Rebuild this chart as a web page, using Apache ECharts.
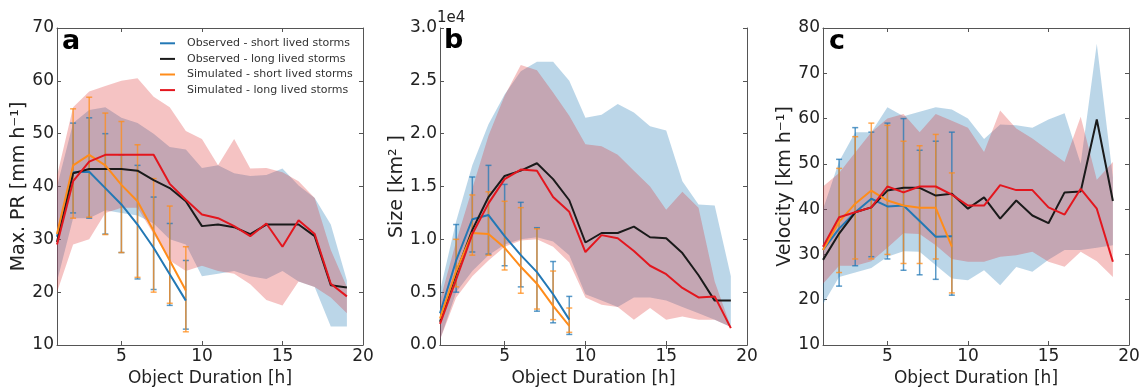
<!DOCTYPE html>
<html>
<head>
<meta charset="utf-8">
<script src="https://cdn.jsdelivr.net/npm/echarts@6/dist/echarts.min.js"></script>
<style>
html,body{margin:0;padding:0;background:#fff}
#chart{width:1145px;height:392px}
</style>
</head>
<body>
<div id="chart"></div>
<script>
// object duration [h]
var hours = [1,2,3,4,5,6,7,8,9,10,11,12,13,14,15,16,17,18,19]
var hoursShort = [1,2,3,4,5,6,7,8,9]
var errHours = [2,3,4,5,6,7,8,9]
var legendNames = ['Observed - short lived storms','Observed - long lived storms','Simulated - short lived storms','Simulated - long lived storms']

// panel a - max. precipitation rate [mm/h]
var prObsShort = [30.5,42.7,42.8,39.7,36.6,32.8,28.4,23.4,18.4]
var prObsLong = [29.5,42.5,43.3,43.3,43.3,43.0,41.2,39.7,37.2,32.5,32.8,32.3,31.0,32.8,32.8,32.8,30.6,21.3,20.9]
var prSimShort = [31,44,46,44,40.3,37.2,31.6,26,20.3]
var prSimLong = [29,41,44.7,46,46,46,46,40.5,37.5,34.7,34,32.5,30.6,33,28.6,33.6,31,21.6,19.2]
var prObsHi = [40,52,54.5,55,53,52,50,47.5,47,43.5,44,42.5,42,42.2,43.4,40.2,37.8,32.8,22.2]
var prObsLo = [22,34,34,35.5,35,34.5,33,30,29,23,23.5,24,23,22.5,24,22,21,13.5,13.5]
var prSimHi = [42,55,58,59,60,60.5,57,55,50.5,49,44,49,43.4,43.5,42.7,41,37.8,28,21]
var prSimLo = [20,29,30,35,36,36,31,26,24,25,24,23.5,21.5,18.5,17.5,22,21,19,16]
var prObsErrLo = [35,34,31,27.5,22.5,20.5,17.5,13]
var prObsErrHi = [52,53,50,46,44,38,33,26]
var prSimErrLo = [34,34.2,30.9,27.5,22.8,20,17.9,12.5]
var prSimErrHi = [54.7,56.9,53.9,52.3,47.9,41.5,36.3,28.6]

// panel b - size [km2]
var sizeObsShort = [3000,8000,11900,12300,10300,8500,6900,4800,2400]
var sizeObsLong = [2200,6800,10900,14000,16000,16500,17200,15700,13700,9700,10600,10600,11200,10200,10100,8700,6600,4200,4200]
var sizeSimShort = [2500,7000,10600,10500,9200,7400,5800,3700,1800]
var sizeSimLong = [2000,6200,10500,13400,15700,16600,16500,14000,12600,8800,10400,10100,8900,7500,6700,5400,4500,4600,1600]
var sizeObsHi = [5100,11700,17000,20900,23700,25900,26800,26800,25000,21500,21800,22800,22000,20700,20300,15500,13300,13200,6500]
var sizeObsLo = [500,5000,7000,8500,9500,10000,10200,9800,8500,4800,4200,3600,4500,4500,4200,3600,3000,2400,1700]
var sizeSimHi = [4200,9800,14800,19800,23600,26500,26000,23900,21700,19000,18800,18000,16500,15000,12800,14500,13000,6000,1700]
var sizeSimLo = [500,4500,6500,8000,9300,9900,10000,9300,7800,4500,3800,3600,2400,3500,2400,2700,2400,2400,1700]
var sizeObsErrLo = [5000,8800,8600,7500,5500,3200,2100,1000]
var sizeObsErrHi = [11400,15900,17000,15200,13500,11100,7900,4600]
var sizeSimErrLo = [5500,8500,8500,7100,4900,3400,2400,1200]
var sizeSimErrHi = [10000,14200,14500,13600,13000,11000,7000,3500]

// panel c - velocity [km/h]
var velObsShort = [31,35.7,39.3,42.3,40.6,40.8,37.4,33.9,34]
var velObsLong = [28.8,34.6,39.3,40.4,44.1,44.7,44.7,43,43.4,40.1,42.6,37.9,41.9,38.6,36.9,43.7,43.9,59.8,41.8]
var velSimShort = [31,37.2,41.2,44.1,41.9,40.8,40.3,40.3,31.7]
var velSimLong = [31.7,38.2,39.3,40.4,45,43.7,45,45,43.2,40.8,40.8,45.3,44.2,44.2,40.4,38.8,44.5,40.1,28.4]
var velObsHi = [40,50.5,57,57,62.5,60.5,61.5,62.5,62,60,55.5,58.7,58.5,58,59.8,61.2,50,76.5,47]
var velObsLo = [19,25,26,27,29.5,30.7,30.6,27.6,24.7,24.3,26.5,23.2,27.2,26.2,28.8,31,31,31.5,32]
var velSimHi = [45,48,52.5,57,60,61,57,61,59.5,58,52.6,61.8,57.8,55.6,53,50.4,60.4,46.5,50.4]
var velSimLo = [23.5,27.5,27.5,28.5,31.5,34.7,34.5,32,29,28.4,28.4,29.5,29.8,30.6,28.4,27.3,30.6,28.5,25]
var velObsErrLo = [23,27.5,29.5,29,26.5,25.5,24.5,21]
var velObsErrHi = [51,58,57,59,60,53,55,57]
var velSimErrLo = [26,29,29,30,28,28,29,21.5]
var velSimErrHi = [49,56,59,58.5,55,54,56.5,48]

var colBlue = '#2378b5', colBlack = '#1a1a1a', colOrange = '#ff8c1a', colRed = '#e3161e'
var font = 'DejaVu Sans'
var frame = '#555'

var chart = echarts.init(document.getElementById('chart'), null, {renderer: 'canvas'})

var grids = [
    {left: 57, top: 28, width: 306, height: 318},
    {left: 440, top: 28, width: 307, height: 318},
    {left: 823, top: 28, width: 306, height: 318}
]
var yNames = ['Max. PR [mm h\u207B\u00B9]', 'Size [km\u00B2 ]', 'Velocity [km h\u207B\u00B9]']
var yRanges = [[10,70,10],[0,30000,5000],[10,80,10]]

var xAxes = [], yAxes = []
grids.forEach(function(g, i){
    var tick = {show: true, inside: true, length: 4, lineStyle: {color: frame}}
    xAxes.push({
        type: 'value', gridIndex: i, min: 1, max: 20, position: 'bottom',
        name: 'Object Duration [h]', nameLocation: 'middle', nameGap: 25,
        nameTextStyle: {fontFamily: font, fontSize: 17, color: '#222'},
        axisLine: {lineStyle: {color: frame}},
        axisTick: Object.assign({customValues: [5,10,15,20]}, tick),
        axisLabel: {customValues: [5,10,15,20], fontFamily: font, fontSize: 17, color: '#222', margin: 3},
        splitLine: {show: false}
    })
    xAxes.push({
        type: 'value', gridIndex: i, min: 1, max: 20, position: 'top',
        axisLine: {lineStyle: {color: frame}},
        axisTick: Object.assign({customValues: [5,10,15]}, tick),
        axisLabel: {show: false}, splitLine: {show: false}
    })
    var r = yRanges[i]
    yAxes.push({
        type: 'value', gridIndex: i, min: r[0], max: r[1], interval: r[2], position: 'left',
        name: yNames[i], nameLocation: 'middle', nameGap: 27, nameRotate: 90,
        nameTextStyle: {fontFamily: font, fontSize: 19, color: '#222'},
        axisLine: {show: true, lineStyle: {color: frame}},
        axisTick: tick,
        axisLabel: {fontFamily: font, fontSize: 17, color: '#222', margin: 3,
            formatter: i == 1 ? function(v){return (v/1e4).toFixed(1)} : null},
        splitLine: {show: false}
    })
    yAxes.push({
        type: 'value', gridIndex: i, min: r[0], max: r[1], interval: r[2], position: 'right',
        axisLine: {show: true, lineStyle: {color: frame}},
        axisTick: tick, axisLabel: {show: false}, splitLine: {show: false}
    })
})

var pairs = function(xs, ys){ return xs.map(function(x, i){ return [x, ys[i]] }) }

var band = function(g, lo, hi, fill){
    return {
        type: 'custom', xAxisIndex: 2*g, yAxisIndex: 2*g, silent: true,
        data: [[hours[0], lo[0]]],
        renderItem: function(params, api){
            var top = hours.map(function(h, i){ return api.coord([h, hi[i]]) })
            var bot = hours.map(function(h, i){ return api.coord([h, lo[i]]) }).reverse()
            return {type: 'polygon', shape: {points: top.concat(bot)}, style: {fill: fill}}
        }
    }
}

var errbars = function(g, lo, hi, color){
    return {
        type: 'custom', xAxisIndex: 2*g, yAxisIndex: 2*g, silent: true,
        data: errHours.map(function(x, i){ return [x, lo[i], hi[i]] }),
        encode: {x: 0, y: [1, 2]},
        renderItem: function(params, api){
            var a = api.coord([api.value(0), api.value(2)])
            var b = api.coord([api.value(0), api.value(1)])
            var st = {stroke: color, lineWidth: 1.5}
            return {type: 'group', children: [
                {type: 'line', shape: {x1: a[0], y1: a[1], x2: b[0], y2: b[1]}, style: st},
                {type: 'line', shape: {x1: a[0]-3, y1: a[1], x2: a[0]+3, y2: a[1]}, style: st},
                {type: 'line', shape: {x1: b[0]-3, y1: b[1], x2: b[0]+3, y2: b[1]}, style: st}
            ]}
        }
    }
}

var line = function(g, name, xs, ys, color){
    return {
        type: 'line', name: name, xAxisIndex: 2*g, yAxisIndex: 2*g,
        data: pairs(xs, ys), symbol: 'none', color: color,
        lineStyle: {color: color, width: 2}
    }
}

var panels = [
    [prObsShort, prObsLong, prSimShort, prSimLong, prObsLo, prObsHi, prSimLo, prSimHi, prObsErrLo, prObsErrHi, prSimErrLo, prSimErrHi],
    [sizeObsShort, sizeObsLong, sizeSimShort, sizeSimLong, sizeObsLo, sizeObsHi, sizeSimLo, sizeSimHi, sizeObsErrLo, sizeObsErrHi, sizeSimErrLo, sizeSimErrHi],
    [velObsShort, velObsLong, velSimShort, velSimLong, velObsLo, velObsHi, velSimLo, velSimHi, velObsErrLo, velObsErrHi, velSimErrLo, velSimErrHi]
]

var series = []
panels.forEach(function(p, g){
    series.push(band(g, p[4], p[5], 'rgba(31,119,180,0.3)'))
    series.push(band(g, p[6], p[7], 'rgba(220,40,40,0.28)'))
    series.push(errbars(g, p[8], p[9], 'rgba(35,120,181,0.75)'))
    series.push(errbars(g, p[10], p[11], 'rgba(255,140,26,0.75)'))
    series.push(line(g, legendNames[0], hoursShort, p[0], colBlue))
    series.push(line(g, legendNames[1], hours, p[1], colBlack))
    series.push(line(g, legendNames[2], hoursShort, p[2], colOrange))
    series.push(line(g, legendNames[3], hours, p[3], colRed))
})

var letter = function(txt, x, y){
    return {type: 'text', left: x, top: y, style: {text: txt, font: 'bold 27px "DejaVu Sans"', fill: '#000'}}
}

var options = {
    animation: false,
    grid: grids,
    xAxis: xAxes,
    yAxis: yAxes,
    legend: {
        data: legendNames, orient: 'vertical', left: 160, top: 37, padding: 0,
        icon: 'rect', itemWidth: 15, itemHeight: 2, itemGap: 3,
        textStyle: {fontFamily: font, fontSize: 11, color: '#333', lineHeight: 12.6, padding: [0, 0, 0, 7]},
        selectedMode: false
    },
    graphic: [
        letter('a', 62, 28),
        letter('b', 444, 27),
        letter('c', 829, 28),
        {type: 'text', left: 437, top: 11, style: {text: '1e4', font: '15px "DejaVu Sans"', fill: '#222'}}
    ],
    series: series
}
chart.setOption(options)
</script>
</body>
</html>
